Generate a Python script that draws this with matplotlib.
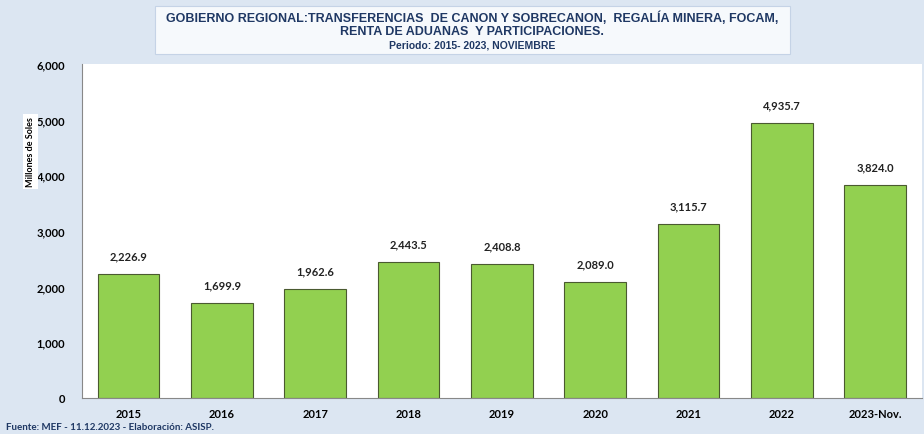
import matplotlib.pyplot as plt
from matplotlib.patches import Rectangle

years = ["2015", "2016", "2017", "2018", "2019", "2020", "2021", "2022", "2023-Nov."]
values = [2226.9, 1699.9, 1962.6, 2443.5, 2408.8, 2089.0, 3115.7, 4935.7, 3824.0]
yticks = [0, 1000, 2000, 3000, 4000, 5000, 6000]

bg = "#dce6f2"
fig = plt.figure(figsize=(9.24, 4.35), dpi=100, facecolor=bg)
ax = fig.add_axes([0.0887, 0.0828, 0.909, 0.768])
ax.set_facecolor("white")

x = range(len(years))
ax.bar(x, values, width=0.66, color="#92d050", edgecolor="#4a5a30", linewidth=0.8)
for i, v in enumerate(values):
    ax.text(i, v + 230, f"{v:,.1f}", ha="center", va="bottom", fontsize=8,
            fontweight="bold", family="Lato", color="#222222")

ax.set_xlim(-0.5, len(years) - 0.5)
ax.set_ylim(0, 6000)
ax.set_yticks(yticks)
ax.set_yticklabels([f"{t:,}" for t in yticks], fontsize=8, fontweight="bold", family="Lato")
ax.set_xticks(list(x))
ax.set_xticklabels(years, fontsize=8, fontweight="bold", family="Lato")
ax.tick_params(length=0, pad=12)
ax.tick_params(axis="x", pad=7)
for s in ["top", "right"]:
    ax.spines[s].set_visible(False)
ax.spines["left"].set_color("#888888")
ax.spines["bottom"].set_color("#888888")

fig.text(0.033, 0.65, "Millones de Soles", rotation=90, ha="center", va="center",
         fontsize=6.5, fontweight="bold", family="Lato",
         bbox=dict(facecolor="white", edgecolor="none", pad=2))

# title box
fig.patches.append(Rectangle((155 / 924, 1 - 55 / 435), 635 / 924, 48 / 435,
                             transform=fig.transFigure, facecolor="#f6f9fc",
                             edgecolor="#c5d3e6", linewidth=0.8))
fig.text(0.511, 1 - 18 / 435, "GOBIERNO REGIONAL:TRANSFERENCIAS  DE CANON Y SOBRECANON,  REGALÍA MINERA, FOCAM,",
         ha="center", va="center", fontsize=9, fontweight="bold", family="Liberation Sans", color="#1f3864")
fig.text(0.511, 1 - 32 / 435, "RENTA DE ADUANAS  Y PARTICIPACIONES.",
         ha="center", va="center", fontsize=9, fontweight="bold", family="Liberation Sans", color="#1f3864")
fig.text(0.511, 1 - 45 / 435, "Periodo: 2015- 2023, NOVIEMBRE",
         ha="center", va="center", fontsize=7.5, fontweight="bold", family="Liberation Sans", color="#1f3864")

fig.text(0.006, 1 - 428 / 435, "Fuente: MEF - 11.12.2023 - Elaboración: ASISP.",
         ha="left", va="center", fontsize=7, fontweight="bold", family="Lato", color="#1f3864")

fig.savefig("out.png", dpi=100, facecolor=bg)
